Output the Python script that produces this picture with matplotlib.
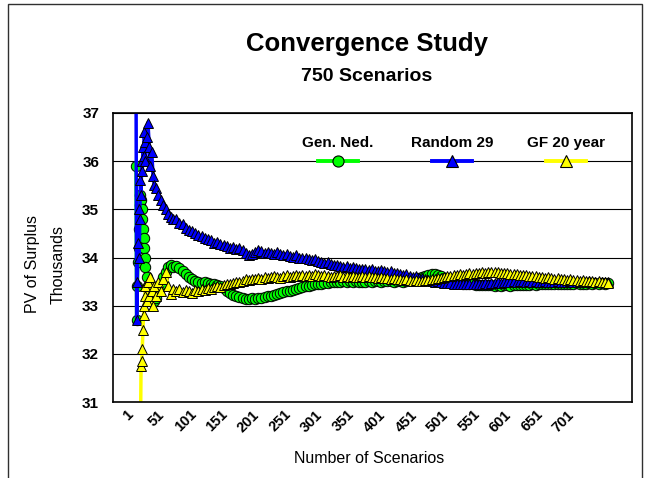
import matplotlib
matplotlib.use("Agg")
import matplotlib.pyplot as plt
from matplotlib.patches import Rectangle

plt.rcParams['font.family'] = ['Liberation Sans', 'DejaVu Sans']

# === DATI ===
scenarios = [1, 2, 3, 4, 5, 6, 7, 8, 9, 10, 11, 12, 13, 14, 15, 16,
             18, 20, 22, 24, 26, 28, 30, 33, 36, 40, 44, 48, 52, 56, 60] + list(range(65, 751, 5))

gen_ned = [35.9, 32.7, 33.4, 33.9, 34.2, 34.6, 35.1, 35.3, 35.2, 35.0, 34.8, 34.6, 34.4, 34.2, 34.0, 33.8,
           33.6, 33.4, 33.3, 33.2, 33.15, 33.1, 33.1, 33.15, 33.3,
           33.45, 33.6, 33.7, 33.8, 33.85, 33.8,
           33.82, 33.78, 33.72, 33.66, 33.6, 33.55, 33.52, 33.5, 33.48, 33.5,
           33.47, 33.45, 33.46, 33.43, 33.4, 33.36, 33.3, 33.26, 33.22, 33.2,
           33.17, 33.15, 33.14, 33.13, 33.15, 33.14, 33.16, 33.15, 33.18, 33.2,
           33.2, 33.23, 33.25, 33.26, 33.28, 33.3, 33.3, 33.33, 33.35, 33.37,
           33.38, 33.4, 33.41, 33.43, 33.44, 33.45, 33.46, 33.48, 33.47, 33.49,
           33.5, 33.49, 33.5, 33.51, 33.5, 33.52, 33.5, 33.51, 33.5, 33.49,
           33.5, 33.51, 33.5, 33.52, 33.51, 33.5, 33.52, 33.51, 33.52, 33.5,
           33.51, 33.52, 33.5, 33.52, 33.53, 33.55, 33.56, 33.58, 33.6, 33.62,
           33.64, 33.65, 33.66, 33.64, 33.62, 33.58, 33.55, 33.52, 33.5, 33.48,
           33.47, 33.46, 33.45, 33.44, 33.44, 33.43, 33.43, 33.42, 33.43, 33.42,
           33.42, 33.41, 33.42, 33.41, 33.42, 33.42, 33.41, 33.42, 33.43, 33.42,
           33.43, 33.42, 33.43, 33.44, 33.43, 33.44, 33.44, 33.45, 33.44, 33.45,
           33.45, 33.46, 33.45, 33.46, 33.46, 33.45, 33.46, 33.47, 33.46, 33.46,
           33.46, 33.47, 33.46, 33.47, 33.46, 33.47, 33.46, 33.47]

random_29 = [38.0, 32.7, 33.5, 34.3, 35.0, 34.0, 34.8, 35.6, 35.3, 36.0, 35.8, 36.3, 36.1, 36.6, 36.4, 36.0,
             36.5, 36.8, 36.3, 35.9, 36.2, 35.7, 35.5, 35.45, 35.3,
             35.2, 35.1, 35.0, 34.9, 34.85, 34.8,
             34.8, 34.72, 34.7, 34.62, 34.58, 34.55, 34.5, 34.46, 34.45, 34.4,
             34.38, 34.36, 34.3, 34.32, 34.28, 34.25, 34.24, 34.2, 34.22, 34.18,
             34.2, 34.15, 34.1, 34.06, 34.08, 34.12, 34.16, 34.14, 34.1, 34.12,
             34.1, 34.08, 34.12, 34.07, 34.05, 34.08, 34.04, 34.02, 34.05, 34.0,
             33.98, 34.0, 33.96, 33.94, 33.96, 33.92, 33.9, 33.88, 33.9, 33.86,
             33.84, 33.85, 33.82, 33.8, 33.82, 33.79, 33.8, 33.78, 33.76, 33.77,
             33.76, 33.75, 33.76, 33.73, 33.72, 33.74, 33.71, 33.7, 33.71, 33.68,
             33.67, 33.66, 33.64, 33.65, 33.62, 33.6, 33.61, 33.58, 33.57, 33.55,
             33.54, 33.52, 33.5, 33.51, 33.49, 33.48, 33.47, 33.48, 33.46, 33.45,
             33.46, 33.45, 33.44, 33.46, 33.45, 33.46, 33.44, 33.46, 33.47, 33.46,
             33.47, 33.48, 33.49, 33.48, 33.5, 33.5, 33.49, 33.51, 33.5, 33.52,
             33.51, 33.5, 33.52, 33.5, 33.51, 33.49, 33.5, 33.51, 33.5, 33.49,
             33.5, 33.51, 33.5, 33.49, 33.5, 33.51, 33.5, 33.5, 33.49, 33.5,
             33.5, 33.51, 33.5, 33.5, 33.49, 33.5, 33.5, 33.5]

gf_20_year = [29.6, 29.9, 30.2, 30.0, 30.3, 30.1, 30.4, 30.2, 31.75, 31.85, 32.1, 32.5, 32.8, 33.0, 33.2, 33.4,
              33.1, 33.5, 33.2, 33.6, 33.3, 33.0, 33.4, 33.2, 33.5,
              33.3, 33.55, 33.7, 33.4, 33.25, 33.35,
              33.3, 33.35, 33.28, 33.32, 33.3, 33.26, 33.33, 33.3, 33.35, 33.32,
              33.36, 33.34, 33.38, 33.4, 33.38, 33.42, 33.45, 33.44, 33.48, 33.5,
              33.5, 33.52, 33.55, 33.53, 33.56, 33.55, 33.58, 33.56, 33.6, 33.58,
              33.6, 33.62, 33.6, 33.58, 33.61, 33.63, 33.6, 33.62, 33.64, 33.62,
              33.63, 33.61, 33.64, 33.62, 33.65, 33.63, 33.61, 33.63, 33.62, 33.6,
              33.62, 33.61, 33.63, 33.6, 33.62, 33.6, 33.61, 33.59, 33.6, 33.62,
              33.6, 33.61, 33.59, 33.6, 33.58, 33.59, 33.57, 33.58, 33.56, 33.57,
              33.55, 33.56, 33.54, 33.55, 33.53, 33.52, 33.53, 33.51, 33.52, 33.53,
              33.54, 33.55, 33.56, 33.58, 33.57, 33.6, 33.62, 33.61, 33.63, 33.64,
              33.65, 33.64, 33.66, 33.67, 33.66, 33.68, 33.67, 33.69, 33.68, 33.7,
              33.7, 33.69, 33.7, 33.68, 33.67, 33.68, 33.66, 33.65, 33.66, 33.64,
              33.63, 33.64, 33.62, 33.61, 33.62, 33.6, 33.59, 33.58, 33.59, 33.57,
              33.56, 33.57, 33.55, 33.56, 33.54, 33.55, 33.53, 33.54, 33.52, 33.53,
              33.52, 33.51, 33.52, 33.5, 33.51, 33.5, 33.49, 33.48]

series_names = ["Gen. Ned.", "Random 29", "GF 20 year"]
series_values = [gen_ned, random_29, gf_20_year]
series_colors = ["#00FF00", "#0000FF", "#FFFF00"]
series_markers = ["o", "^", "^"]

x_ticks = list(range(1, 702, 50))
y_ticks = [31, 32, 33, 34, 35, 36, 37]

# === GRAFICO ===
W, H = 645, 478
fig = plt.figure(figsize=(W / 100, H / 100), dpi=100)
ax = fig.add_axes([113 / W, 1 - 402 / H, 519 / W, 289 / H])

for vals, col, mk in zip(series_values, series_colors, series_markers):
    ax.plot(scenarios, vals, color=col, lw=2.5, marker=mk, ms=7.5,
            mfc=col, mec='black', mew=0.7)

ax.set_xlim(-35.5, 788)
ax.set_ylim(31, 37)
ax.set_xticks(x_ticks)
ax.set_xticklabels([str(t) for t in x_ticks], rotation=45, ha='right', va='top',
                   fontsize=10.5, fontweight='bold')
ax.set_yticks(y_ticks)
ax.set_yticklabels([str(t) for t in y_ticks], fontsize=11, fontweight='bold')
ax.tick_params(axis='both', length=0)
ax.tick_params(axis='y', pad=10)
ax.tick_params(axis='x', pad=4)
ax.yaxis.grid(True, color='black', lw=0.8)
ax.set_axisbelow(True)
for sp in ax.spines.values():
    sp.set_linewidth(1.2)
    sp.set_color('black')

ax.set_xlabel("Number of Scenarios", fontsize=11.5)
ax.xaxis.set_label_coords((369 - 113) / 519, (402 - 451) / 289)
ax.set_ylabel("PV of Surplus\nThousands", fontsize=11.5, linespacing=1.9,
              va='center', ha='center')
ax.yaxis.set_label_coords((45 - 113) / 519, (402 - 264) / 289)

# legenda (testo sopra il simbolo)
leg_x = [338, 452, 566]
for name, col, mk, xp in zip(series_names, series_colors, series_markers, leg_x):
    xa = (xp - 113) / 519
    dx = 20 / 519
    ya = (402 - 161) / 289
    ax.plot([xa - dx, xa + dx], [ya, ya], color=col, lw=2.8,
            transform=ax.transAxes, clip_on=False)
    ax.plot([xa], [ya], marker=mk, ms=8, mfc=col, mec='black', mew=0.8,
            transform=ax.transAxes, clip_on=False)
    ax.text(xa, (402 - 147) / 289, name, transform=ax.transAxes,
            ha='center', va='baseline', fontsize=11, fontweight='bold')

# titoli
fig.text(367 / W, 1 - 51 / H, "Convergence Study", ha='center', va='baseline',
         fontsize=18.5, fontweight='bold')
fig.text(367 / W, 1 - 81 / H, "750 Scenarios", ha='center', va='baseline',
         fontsize=14, fontweight='bold')

# bordo del grafico
fig.add_artist(Rectangle((8 / W, -0.02), (642 - 8) / W, 1.02 - 4 / H,
                         transform=fig.transFigure, fill=False,
                         edgecolor='#303030', lw=1.0))

fig.savefig("out.png", dpi=100)
